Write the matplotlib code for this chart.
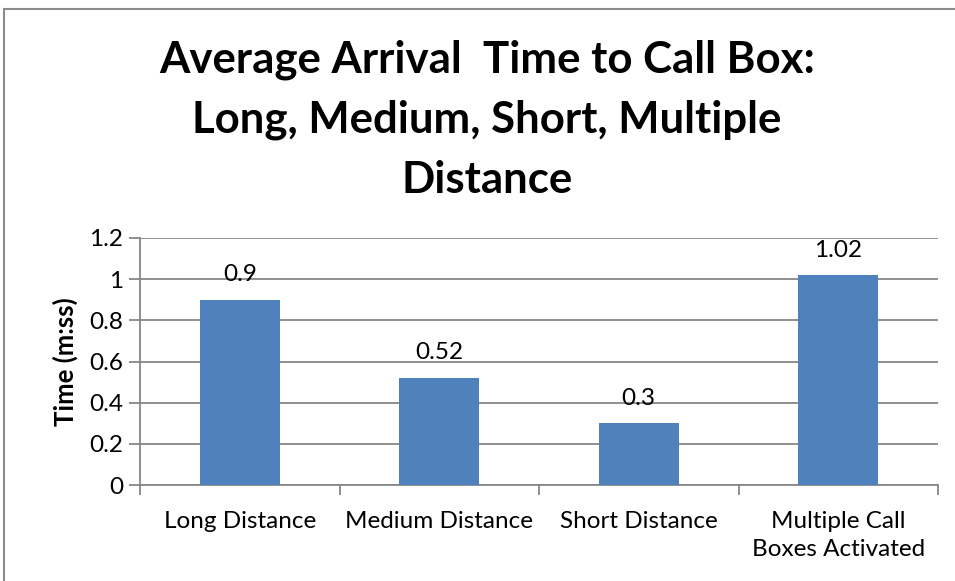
import matplotlib
matplotlib.use("Agg")
import matplotlib.pyplot as plt
from matplotlib.patches import Rectangle

categories = ["Long Distance", "Medium Distance", "Short Distance", "Multiple Call\nBoxes Activated"]
times = [0.9, 0.52, 0.3, 1.02]
yticks = [0, 0.2, 0.4, 0.6, 0.8, 1, 1.2]
ytick_labels = ["0", "0.2", "0.4", "0.6", "0.8", "1", "1.2"]
title = "Average Arrival  Time to Call Box:\nLong, Medium, Short, Multiple\nDistance"

plt.rcParams["font.family"] = ["Lato", "DejaVu Sans"]

W, H = 955, 581
fig = plt.figure(figsize=(W / 100, H / 100), dpi=100)

# chart frame
fig.patches.append(Rectangle((4 / W, -0.01), 1.1, 1 - 9 / H + 0.01, transform=fig.transFigure,
                             fill=False, edgecolor="#8c8c8c", linewidth=1.5))

left, right, top, bottom = 140, 938, 238, 485
ax = fig.add_axes([left / W, 1 - bottom / H, (right - left) / W, (bottom - top) / H])

grid_color = "#878787"
fs = 17.5
x = list(range(len(categories)))
ax.bar(x, times, width=0.4, color="#4F81BD", zorder=3)
for xi, v in zip(x, times):
    ax.text(xi, v + 0.09, f"{v:g}", ha="center", va="baseline", fontsize=fs, color="#000000")

ax.set_xlim(-0.5, len(categories) - 0.5)
ax.set_ylim(0, 1.2)
ax.set_yticks(yticks)
ax.set_yticklabels(ytick_labels, fontsize=fs)
ax.yaxis.grid(True, color=grid_color, linewidth=1.3, zorder=0)
ax.set_axisbelow(True)

ax.set_xticks(x)
ax.set_xticklabels(categories, fontsize=fs, linespacing=1.4)
ax.set_xticks([i - 0.5 for i in range(len(categories) + 1)], minor=True)
ax.tick_params(axis="x", which="major", length=0, pad=19)
ax.tick_params(axis="x", which="minor", length=7, color=grid_color, width=1.3)
ax.tick_params(axis="y", length=8, color=grid_color, width=1.3, pad=4)

for s in ["top", "right"]:
    ax.spines[s].set_visible(False)
ax.spines["left"].set_color(grid_color)
ax.spines["left"].set_linewidth(1.3)
ax.spines["bottom"].set_color(grid_color)
ax.spines["bottom"].set_linewidth(1.3)

ax.set_ylabel("Time (m:ss)", fontsize=18.5, fontweight="bold", labelpad=8)

fig.text(487 / W, 1 - 120 / H, title, ha="center", va="center", fontsize=31.5,
         fontweight="bold", linespacing=1.6)

fig.savefig("out.png", dpi=100)
